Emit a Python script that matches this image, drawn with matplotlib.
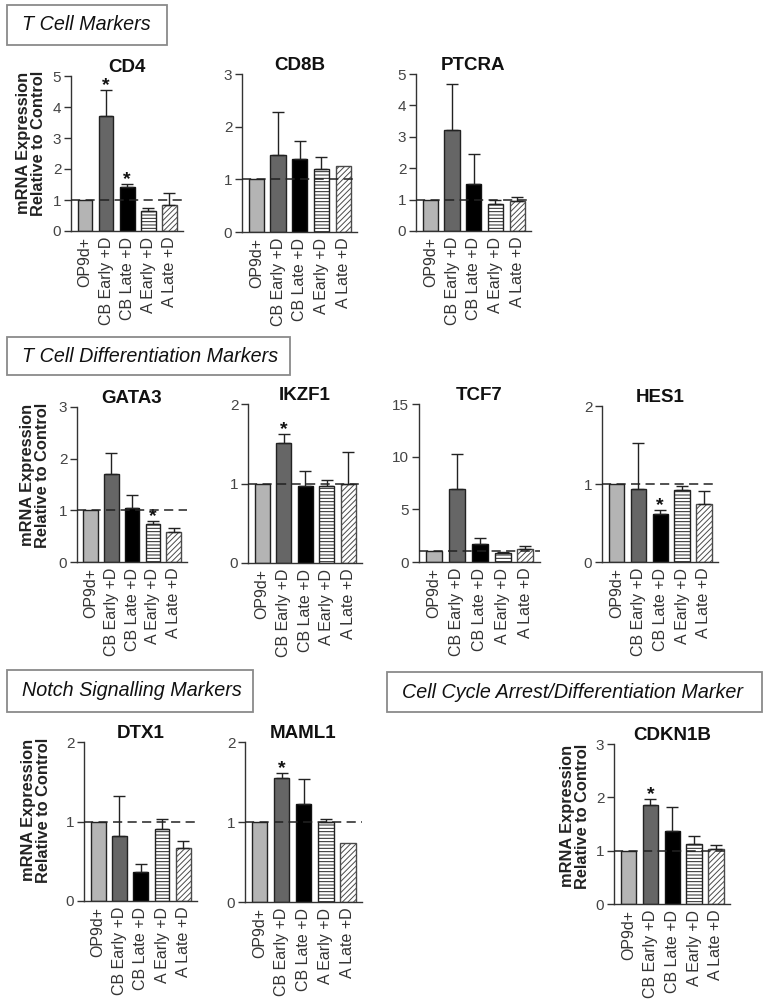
import matplotlib
matplotlib.use("Agg")
import matplotlib.pyplot as plt
from matplotlib.patches import Rectangle
import numpy as np

plt.rcParams['font.family'] = ['Liberation Sans', 'DejaVu Sans']
plt.rcParams['hatch.linewidth'] = 0.7

groups = ["OP9d+", "CB Early +D", "CB Late +D", "A Early +D", "A Late +D"]

cd4_mean = [1.00, 3.70, 1.42, 0.63, 0.85]
cd4_err = [0.00, 0.84, 0.10, 0.12, 0.37]
cd4_sig = [1, 2]

cd8b_mean = [1.00, 1.46, 1.38, 1.19, 1.26]
cd8b_err = [0.00, 0.82, 0.34, 0.24, 0.00]
cd8b_sig = []

ptcra_mean = [1.00, 3.22, 1.51, 0.87, 0.95]
ptcra_err = [0.00, 1.46, 0.93, 0.11, 0.12]
ptcra_sig = []

gata3_mean = [1.00, 1.70, 1.04, 0.74, 0.58]
gata3_err = [0.00, 0.41, 0.26, 0.05, 0.07]
gata3_sig = [3]

ikzf1_mean = [1.00, 1.51, 0.97, 0.97, 0.99]
ikzf1_err = [0.00, 0.11, 0.19, 0.07, 0.41]
ikzf1_sig = [1]

tcf7_mean = [1.00, 6.95, 1.70, 0.85, 1.27]
tcf7_err = [0.00, 3.35, 0.57, 0.13, 0.21]
tcf7_sig = []

hes1_mean = [1.00, 0.93, 0.62, 0.925, 0.75]
hes1_err = [0.00, 0.60, 0.05, 0.045, 0.16]
hes1_sig = [2]

dtx1_mean = [1.00, 0.82, 0.36, 0.90, 0.67]
dtx1_err = [0.00, 0.50, 0.11, 0.13, 0.09]
dtx1_sig = []

maml1_mean = [1.00, 1.55, 1.23, 1.00, 0.74]
maml1_err = [0.00, 0.06, 0.31, 0.04, 0.00]
maml1_sig = [1]

cdkn1b_mean = [1.00, 1.85, 1.37, 1.12, 1.03]
cdkn1b_err = [0.00, 0.12, 0.45, 0.15, 0.07]
cdkn1b_sig = [1]

sections = ["T Cell Markers", "T Cell Differentiation Markers",
            "Notch Signalling Markers", "Cell Cycle Arrest/Differentiation Marker"]
ylabel_text = "mRNA Expression\nRelative to Control"

W, H = 768, 999
fig = plt.figure(figsize=(W / 100, H / 100), dpi=100)


def px_axes(left, top, right, bottom):
    return fig.add_axes([left / W, 1 - bottom / H, (right - left) / W, (bottom - top) / H])


face = ['#b4b4b4', '#666666', '#000000', 'white', 'white']
hatches = [None, None, None, '-----', '//////']
edges = ['#222222', '#222222', '#111111', '#222222', '#4a4a4a']

panels = [
    ("CD4", cd4_mean, cd4_err, cd4_sig, 5, [0, 1, 2, 3, 4, 5], (71, 76, 183, 231), (31, 143)),
    ("CD8B", cd8b_mean, cd8b_err, cd8b_sig, 3, [0, 1, 2, 3], (242, 74, 357, 232), None),
    ("PTCRA", ptcra_mean, ptcra_err, ptcra_sig, 5, [0, 1, 2, 3, 4, 5], (416, 74, 531, 231), None),
    ("GATA3", gata3_mean, gata3_err, gata3_sig, 3, [0, 1, 2, 3], (77, 407, 187, 562), (35, 475)),
    ("IKZF1", ikzf1_mean, ikzf1_err, ikzf1_sig, 2, [0, 1, 2], (248, 404, 362, 563), None),
    ("TCF7", tcf7_mean, tcf7_err, tcf7_sig, 15, [0, 5, 10, 15], (419, 404, 540, 562), None),
    ("HES1", hes1_mean, hes1_err, hes1_sig, 2, [0, 1, 2], (602, 406, 718, 562), None),
    ("DTX1", dtx1_mean, dtx1_err, dtx1_sig, 2, [0, 1, 2], (84, 742, 197, 901), (36, 810)),
    ("MAML1", maml1_mean, maml1_err, maml1_sig, 2, [0, 1, 2], (245, 742, 362, 902), None),
    ("CDKN1B", cdkn1b_mean, cdkn1b_err, cdkn1b_sig, 3, [0, 1, 2, 3], (614, 744, 730, 904), (575, 816)),
]

for name, mean, err, sig, ymax, yticks, box, ylab in panels:
    ax = px_axes(*box)
    x = np.arange(len(groups))
    mean = np.asarray(mean)
    err = np.asarray(err)
    bars = ax.bar(x, mean, width=0.7, color=face, edgecolor=edges, linewidth=1.0, zorder=2)
    for b, h in zip(bars, hatches):
        if h:
            b.set_hatch(h)
    m = err > 0
    ax.errorbar(x[m], mean[m], yerr=[np.zeros(m.sum()), err[m]], fmt='none',
                ecolor='#222222', elinewidth=1.0, capsize=4, capthick=1.0, zorder=3)
    ax.axhline(1, color='#222222', ls=(0, (6, 3.5)), lw=1.1, zorder=5)
    for i in sig:
        ax.annotate('*', (x[i], mean[i] + err[i]), xytext=(0, 0), textcoords='offset pixels',
                    ha='center', va='baseline', fontsize=14, fontweight='bold', color='#111111')
    ax.set_xlim(-0.66, 4.64)
    ax.set_ylim(0, ymax)
    ax.set_yticks(yticks)
    ax.set_xticks(x)
    ax.set_xticklabels(groups, rotation=90, fontsize=11.5, color='#333333')
    ax.tick_params(axis='x', length=0, pad=4)
    ax.tick_params(axis='y', length=5, width=1.0, color='#333333', labelsize=11,
                   labelcolor='#444444', pad=2)
    for s in ['top', 'right']:
        ax.spines[s].set_visible(False)
    for s in ['left', 'bottom']:
        ax.spines[s].set_color('#333333')
        ax.spines[s].set_linewidth(1.0)
    ax.set_facecolor('none')
    ax.set_title(name, fontsize=13.5, fontweight='bold', pad=3, color='#111111')
    if ylab:
        fig.text(ylab[0] / W, 1 - ylab[1] / H, ylabel_text, rotation=90, ha='center', va='center',
                 multialignment='center', fontsize=11.8, fontweight='bold', linespacing=1.0,
                 color='#222222')

# section boxes
section_boxes = [(7, 5, 167, 45), (7, 337, 290, 375), (7, 670, 253, 712), (387, 672, 762, 712)]
for label, (l, t, r, b) in zip(sections, section_boxes):
    fig.add_artist(Rectangle((l / W, 1 - b / H), (r - l) / W, (b - t) / H, transform=fig.transFigure,
                             fill=False, edgecolor='#8a8a8a', linewidth=1.3))
    fig.text((l + 15) / W, 1 - ((t + b) / 2) / H, label, ha='left', va='center',
             fontsize=14.2, fontstyle='italic', color='#111111')

fig.savefig('out.png', dpi=100)
